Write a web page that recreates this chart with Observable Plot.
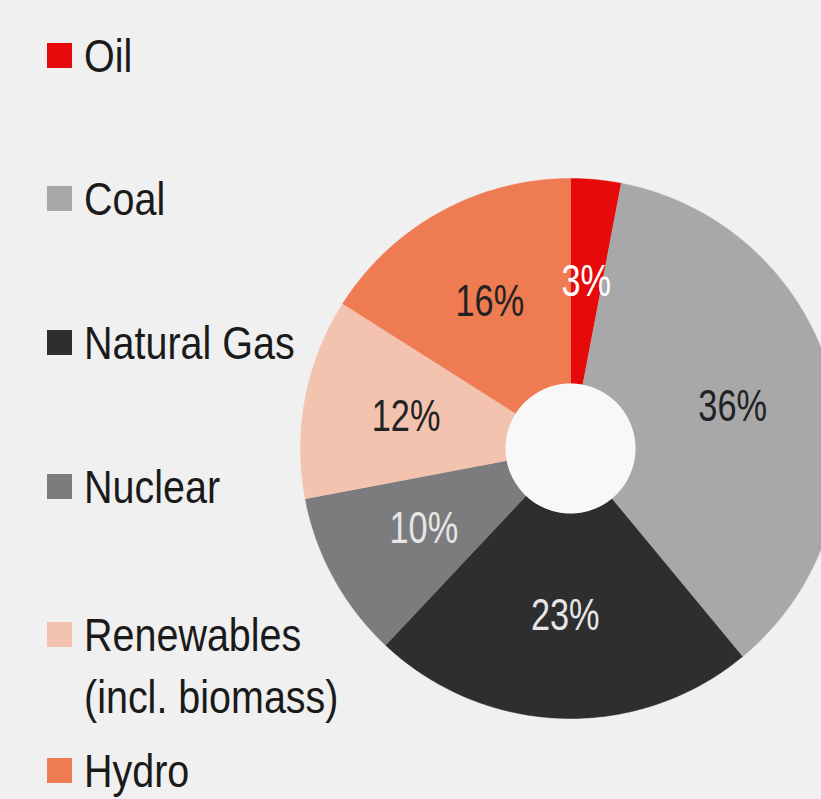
<!DOCTYPE html>
<html>
<head>
<meta charset="utf-8">
<script src="https://cdn.jsdelivr.net/npm/d3@7"></script>
<script src="https://cdn.jsdelivr.net/npm/@observablehq/plot@0.6"></script>
<style>
  html, body { margin: 0; padding: 0; background: #f0f0f0; overflow: hidden; }
  #wrap { position: relative; width: 821px; height: 799px; }
  #legend { position: absolute; left: 47px; top: 0; font-family: "Liberation Sans", Arial, sans-serif; font-size: 47px; color: #1a1a1a; }
  .item { position: absolute; left: 0; display: flex; align-items: flex-start; white-space: nowrap; }
  .sw { width: 25px; height: 25px; margin-right: 12px; flex: none; }
  .lbl { line-height: 62px; margin-top: -18px; transform: scaleX(0.84); transform-origin: left center; }
</style>
</head>
<body>
<div id="wrap">
  <div id="chart"></div>
  <div id="legend"></div>
</div>
<script>
const categories = ["Oil", "Coal", "Natural Gas", "Nuclear", "Renewables", "Hydro"];
const legendLabels = ["Oil", "Coal", "Natural Gas", "Nuclear", "Renewables\n(incl. biomass)", "Hydro"];
const shares = [3, 36, 23, 10, 12, 16];
const colors = ["#e60a0a", "#a8a8aa", "#2e2e30", "#7c7c7e", "#f3c3b0", "#ef7b52"];
const labelColors = ["#ffffff", "#222222", "#e6e6e6", "#e6e6e6", "#222222", "#222222"];
const legendTops = [43, 186, 330, 474, 622, 758];

const innerR = 0.24;
const pie = d3.pie().sort(null).value(d => d.value).startAngle(0).endAngle(2 * Math.PI);
const arcs = pie(categories.map((c, i) => ({ name: c, value: shares[i], i })));

const polys = [];
arcs.forEach(a => {
  const n = 120;
  for (let k = 0; k <= n; k++) {
    const t = a.startAngle + (a.endAngle - a.startAngle) * k / n;
    polys.push({ name: a.data.name, x: Math.sin(t), y: -Math.cos(t) });
  }
  for (let k = n; k >= 0; k--) {
    const t = a.startAngle + (a.endAngle - a.startAngle) * k / n;
    polys.push({ name: a.data.name, x: innerR * Math.sin(t), y: -innerR * Math.cos(t) });
  }
});

const labelR = (innerR + 1) / 2;
const labels = arcs.map(a => {
  const m = (a.startAngle + a.endAngle) / 2;
  return { name: a.data.name, text: a.data.value + "%", x: labelR * Math.sin(m), y: -labelR * Math.cos(m), c: labelColors[a.data.i] };
});

const chart = Plot.plot({
  width: 821,
  height: 799,
  margin: 0,
  style: { background: "transparent", overflow: "visible" },
  x: { domain: [-1, 1], range: [300, 840], axis: null },
  y: { domain: [-1, 1], range: [178, 718], axis: null },
  color: { domain: categories, range: colors },
  marks: [
    Plot.line(polys, { x: "x", y: "y", z: "name", fill: "name", stroke: "name", strokeWidth: 0.5, curve: "linear" }),
    Plot.dot([{ x: 0, y: 0 }], { x: "x", y: "y", r: 65, fill: "#f8f8f8", stroke: "none" }),
    Plot.text(labels, { x: "x", y: "y", text: "text", fill: "c", fontSize: 44, fontFamily: "'Liberation Sans', Arial, sans-serif" })
  ]
});
chart.querySelectorAll("text").forEach(t => {
  const tr = t.getAttribute("transform");
  if (tr) {
    t.setAttribute("transform", tr + " scale(0.78,1)");
  } else {
    const x = +t.getAttribute("x") || 0, y = +t.getAttribute("y") || 0;
    t.setAttribute("x", 0); t.setAttribute("y", 0);
    t.setAttribute("transform", `translate(${x},${y}) scale(0.78,1)`);
  }
});
document.getElementById("chart").appendChild(chart);

const leg = document.getElementById("legend");
categories.forEach((c, i) => {
  const it = document.createElement("div");
  it.className = "item";
  it.style.top = legendTops[i] + "px";
  const sw = document.createElement("div");
  sw.className = "sw";
  sw.style.background = colors[i];
  const lb = document.createElement("div");
  lb.className = "lbl";
  lb.innerHTML = legendLabels[i].replace("\n", "<br>");
  it.appendChild(sw); it.appendChild(lb);
  leg.appendChild(it);
});
</script>
</body>
</html>
